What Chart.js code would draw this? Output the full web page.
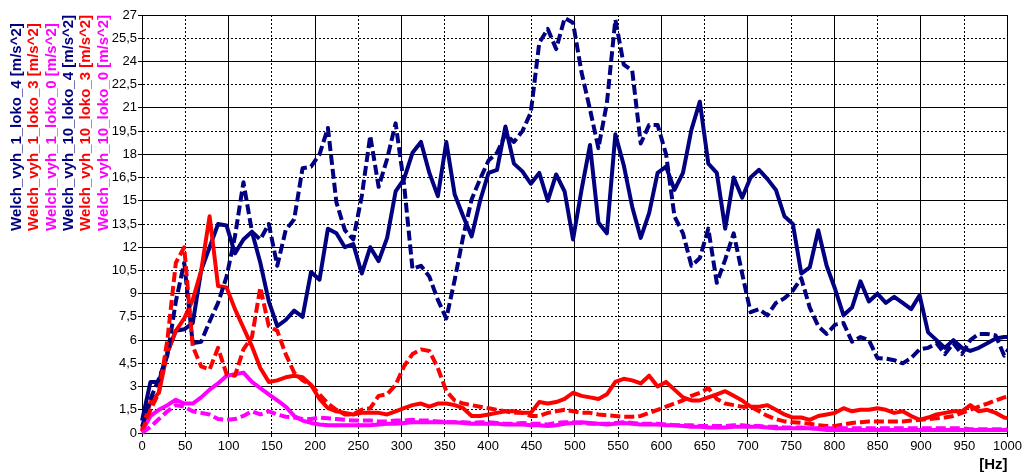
<!DOCTYPE html>
<html>
<head>
<meta charset="utf-8">
<script src="https://cdn.jsdelivr.net/npm/chart.js@4"></script>
<style>
html,body{margin:0;padding:0;background:#fff;}
#wrap{position:relative;width:1024px;height:474px;overflow:hidden;}
#c{position:absolute;left:0;top:0;}
.leg{position:absolute;top:231px;transform-origin:0 0;transform:rotate(-90deg);white-space:nowrap;font:bold 15px "Liberation Sans",Arial,sans-serif;line-height:17px;}
</style>
</head>
<body>
<div id="wrap"><canvas id="c" width="1024" height="474"></canvas><div id="legend"></div></div>
<script>
// Frequency bins [Hz]
const freqHz = [0, 9.8, 19.5, 29.3, 39.1, 48.8, 58.6, 68.4, 78.1, 87.9,
  97.7, 107.4, 117.2, 127.0, 136.7, 146.5, 156.3, 166.0, 175.8, 185.5,
  195.3, 205.1, 214.8, 224.6, 234.4, 244.1, 253.9, 263.7, 273.4, 283.2,
  293.0, 302.7, 312.5, 322.3, 332.0, 341.8, 351.6, 361.3, 371.1, 380.9,
  390.6, 400.4, 410.2, 419.9, 429.7, 439.5, 449.2, 459.0, 468.8, 478.5,
  488.3, 498.0, 507.8, 517.6, 527.3, 537.1, 546.9, 556.6, 566.4, 576.2,
  585.9, 595.7, 605.5, 615.2, 625.0, 634.8, 644.5, 654.3, 664.1, 673.8,
  683.6, 693.4, 703.1, 712.9, 722.7, 732.4, 742.2, 752.0, 761.7, 771.5,
  781.3, 791.0, 800.8, 810.5, 820.3, 830.1, 839.8, 849.6, 859.4, 869.1,
  878.9, 888.7, 898.4, 908.2, 918.0, 927.7, 937.5, 947.3, 957.0, 966.8,
  976.6, 986.3, 996.1, 1005.9];

const seriesNames = ["Welch_vyh_1_loko_4 [m/s^2]", "Welch_vyh_1_loko_3 [m/s^2]", "Welch_vyh_1_loko_0 [m/s^2]",
  "Welch_vyh_10_loko_4 [m/s^2]", "Welch_vyh_10_loko_3 [m/s^2]", "Welch_vyh_10_loko_0 [m/s^2]"];

const vyh1loko4 = [0.8, 3.3, 3.3, 5.2, 6.6, 6.7, 7.1, 10.5, 12.0, 13.5,
  13.4, 11.6, 12.5, 13.0, 11.0, 8.5, 6.9, 7.3, 7.9, 7.5,
  10.4, 9.9, 13.2, 12.9, 12.0, 12.2, 10.3, 12.0, 11.1, 12.6,
  15.6, 16.4, 18.1, 18.8, 16.8, 15.3, 18.8, 15.4, 14.0, 12.7,
  15.0, 16.8, 17.0, 19.8, 17.4, 16.9, 16.1, 16.8, 15.0, 16.7,
  15.6, 12.5, 15.7, 18.6, 13.6, 12.9, 19.3, 17.3, 14.6, 12.6,
  14.2, 16.8, 17.2, 15.7, 16.8, 19.6, 21.4, 17.4, 16.8, 13.2,
  16.5, 15.2, 16.5, 17.0, 16.4, 15.7, 14.0, 13.5, 10.3, 10.7,
  13.1, 10.8, 9.3, 7.6, 8.1, 9.8, 8.5, 9.0, 8.4, 8.8,
  8.4, 8.0, 8.9, 6.5, 6.0, 5.5, 6.0, 5.5, 5.3, 5.5,
  5.8, 6.1, 6.2, 6.2];

const vyh1loko3 = [0.2, 2.0, 2.6, 5.2, 6.6, 7.4, 8.6, 10.5, 14.0, 9.5,
  9.4, 8.0, 6.8, 5.6, 4.2, 3.3, 3.4, 3.6, 3.7, 3.6,
  3.1, 2.2, 1.6, 1.4, 1.3, 1.2, 1.3, 1.3, 1.3, 1.2,
  1.4, 1.6, 1.8, 1.9, 1.7, 1.9, 1.9, 1.8, 1.6, 1.1,
  1.1, 1.2, 1.3, 1.4, 1.4, 1.3, 1.3, 2.0, 1.9, 2.0,
  2.2, 2.6, 2.4, 2.3, 2.2, 2.5, 3.3, 3.5, 3.4, 3.2,
  3.7, 3.0, 3.3, 2.8, 2.3, 2.1, 2.1, 2.3, 2.5, 2.7,
  2.4, 2.1, 1.7, 1.7, 1.8, 1.5, 1.2, 1.0, 1.0, 0.85,
  1.1, 1.2, 1.3, 1.6, 1.4, 1.5, 1.5, 1.6, 1.5, 1.3,
  1.4, 1.1, 0.85, 1.0, 1.2, 1.3, 1.4, 1.4, 1.8, 1.4,
  1.5, 1.3, 1.0, 0.9];

const vyh1loko0 = [0.1, 1.1, 1.5, 1.8, 2.15, 1.9, 1.9, 2.3, 2.8, 3.2,
  3.7, 3.8, 3.9, 3.3, 2.9, 2.5, 2.1, 1.7, 1.1, 0.8,
  0.65, 0.55, 0.5, 0.5, 0.5, 0.5, 0.5, 0.5, 0.55, 0.6,
  0.6, 0.65, 0.7, 0.7, 0.7, 0.7, 0.7, 0.7, 0.65, 0.6,
  0.6, 0.6, 0.6, 0.55, 0.55, 0.55, 0.5, 0.5, 0.45, 0.5,
  0.6, 0.65, 0.7, 0.65, 0.6, 0.55, 0.6, 0.65, 0.6, 0.55,
  0.55, 0.55, 0.5, 0.5, 0.45, 0.4, 0.4, 0.35, 0.35, 0.35,
  0.4, 0.4, 0.4, 0.4, 0.35, 0.3, 0.3, 0.3, 0.3, 0.3,
  0.25, 0.2, 0.2, 0.2, 0.2, 0.2, 0.2, 0.2, 0.2, 0.2,
  0.2, 0.2, 0.2, 0.2, 0.2, 0.2, 0.2, 0.2, 0.2, 0.2,
  0.2, 0.2, 0.2, 0.2];

const vyh10loko4 = [0.4, 2.2, 3.5, 5.0, 8.5, 11.0, 5.8, 5.9, 7.2, 8.4,
  10.1, 12.7, 16.2, 13.0, 12.5, 13.5, 10.8, 13.1, 13.8, 17.1,
  17.2, 18.0, 19.7, 14.9, 13.1, 12.5, 15.3, 19.2, 15.9, 17.7,
  20.0, 16.1, 10.6, 10.8, 10.1, 8.6, 7.4, 9.9, 12.7, 15.1,
  16.4, 17.6, 18.1, 19.3, 18.8, 19.5, 20.7, 25.2, 26.1, 24.8,
  26.8, 26.5, 23.3, 20.9, 18.4, 21.3, 26.7, 23.8, 23.4, 18.7,
  19.9, 19.9, 18.0, 14.0, 12.9, 10.8, 11.3, 13.2, 9.7, 11.2,
  12.9, 10.3, 7.8, 8.0, 7.6, 8.4, 8.7, 9.2, 10.0, 8.1,
  6.9, 6.4, 7.0, 7.1, 5.9, 6.2, 6.0, 4.85, 4.8, 4.7,
  4.5, 4.85, 5.4, 5.5, 5.8, 5.1, 5.8, 5.1, 6.0, 6.4,
  6.4, 6.3, 5.0, 5.8];

const vyh10loko3 = [0.1, 1.5, 2.6, 6.0, 11.0, 12.0, 5.6, 4.3, 4.1, 5.5,
  3.8, 3.7, 5.4, 6.2, 9.4, 6.9, 6.6, 5.1, 3.9, 3.4,
  3.1, 2.5, 1.9, 1.5, 1.2, 1.2, 1.5, 1.6, 2.4, 2.5,
  3.1, 4.3, 5.1, 5.4, 5.3, 4.2, 2.7, 2.1, 1.9, 1.8,
  1.7, 1.6, 1.5, 1.4, 1.3, 1.3, 1.1, 1.1, 1.3, 1.4,
  1.5, 1.4, 1.3, 1.3, 1.2, 1.15, 1.1, 1.05, 1.05, 1.1,
  1.3, 1.5, 1.7, 1.9, 2.1, 2.4, 2.6, 2.9, 2.2, 1.9,
  1.8, 1.7, 1.7, 1.4, 1.1, 0.9, 0.75, 0.7, 0.65, 0.6,
  0.5, 0.45, 0.45, 0.55, 0.65, 0.7, 0.75, 0.75, 0.75, 0.75,
  0.75, 0.8, 0.85, 0.9, 0.95, 1.0, 1.1, 1.3, 1.5, 1.7,
  1.9, 2.1, 2.3, 2.4];

const vyh10loko0 = [0.0, 0.4, 0.9, 1.4, 1.8, 1.7, 1.4, 1.3, 1.2, 0.9,
  0.85, 0.9, 1.1, 1.4, 1.2, 1.4, 1.2, 1.05, 1.0, 0.9,
  0.9, 1.0, 0.95, 0.9, 0.85, 0.8, 0.8, 0.8, 0.75, 0.75,
  0.8, 0.8, 0.85, 0.8, 0.8, 0.75, 0.7, 0.7, 0.7, 0.65,
  0.7, 0.7, 0.65, 0.6, 0.6, 0.65, 0.6, 0.6, 0.55, 0.65,
  0.7, 0.7, 0.65, 0.6, 0.6, 0.6, 0.65, 0.7, 0.65, 0.6,
  0.6, 0.6, 0.55, 0.5, 0.5, 0.5, 0.45, 0.45, 0.45, 0.45,
  0.5, 0.5, 0.45, 0.45, 0.4, 0.4, 0.35, 0.35, 0.35, 0.3,
  0.3, 0.3, 0.3, 0.3, 0.3, 0.3, 0.3, 0.3, 0.3, 0.3,
  0.3, 0.3, 0.3, 0.3, 0.3, 0.3, 0.3, 0.3, 0.25, 0.25,
  0.25, 0.25, 0.25, 0.25];

const allSeries = [vyh1loko4, vyh1loko3, vyh1loko0, vyh10loko4, vyh10loko3, vyh10loko0];
const colors = ['#000080', '#ff0000', '#ff00ff', '#000080', '#ff0000', '#ff00ff'];
const dashed = [false, false, false, true, true, true];

// HTML legend (rotated text)
const leg = document.getElementById('legend');
seriesNames.forEach((n, i) => {
  const s = document.createElement('div');
  s.className = 'leg';
  s.textContent = n;
  s.style.color = colors[i];
  s.style.left = (7 + i * 17.3) + 'px';
  leg.appendChild(s);
});

Chart.defaults.font.family = "'Liberation Sans', Arial, sans-serif";
Chart.defaults.font.size = 13;
Chart.defaults.color = '#000';

const datasets = allSeries.map((vals, i) => ({
  label: seriesNames[i],
  data: freqHz.map((f, k) => ({x: f, y: vals[k]})),
  borderColor: colors[i],
  backgroundColor: colors[i],
  borderWidth: 4,
  borderDash: dashed[i] ? [10, 4] : [],
  borderJoinStyle: 'round',
  pointRadius: 0,
  tension: 0,
  fill: false,
  order: 10 - i,
  clip: {left: 3, top: 3, right: 0, bottom: 3}
}));

new Chart(document.getElementById('c'), {
  type: 'line',
  data: {datasets},
  options: {
    responsive: false,
    animation: false,
    events: [],
    layout: {padding: {top: 15, right: 16, bottom: 0, left: 0}},
    plugins: {legend: {display: false}, tooltip: {enabled: false}},
    scales: {
      x: {
        type: 'linear', min: 0, max: 1000,
        ticks: {stepSize: 50, padding: 2, maxRotation: 0, autoSkip: false, color: '#000',
          callback: v => String(Math.round(v))},
        grid: {color: '#000', lineWidth: 1, tickLength: 4, tickColor: '#000'},
        border: {display: true, color: '#000', width: 1,
          dash: ctx => (ctx.tick && Math.round(ctx.tick.value) % 100 !== 0) ? [2, 2] : []},
        title: {display: true, text: '[Hz]', align: 'end', color: '#000',
          font: {weight: 'bold', size: 15}, padding: {top: 0, bottom: 0}},
        afterFit: s => { s.height = 41; }
      },
      y: {
        min: 0, max: 27,
        ticks: {stepSize: 1.5, padding: 1, color: '#000',
          callback: v => String(Math.round(v * 10) / 10).replace('.', ',')},
        grid: {color: '#000', lineWidth: 1, tickLength: 4, tickColor: '#000'},
        border: {display: true, color: '#000', width: 1,
          dash: ctx => (ctx.tick && Math.round(ctx.tick.value * 10) % 30 !== 0) ? [2, 2] : []},
        afterFit: s => { s.width = 142; }
      }
    }
  }
});
</script>
</body>
</html>
